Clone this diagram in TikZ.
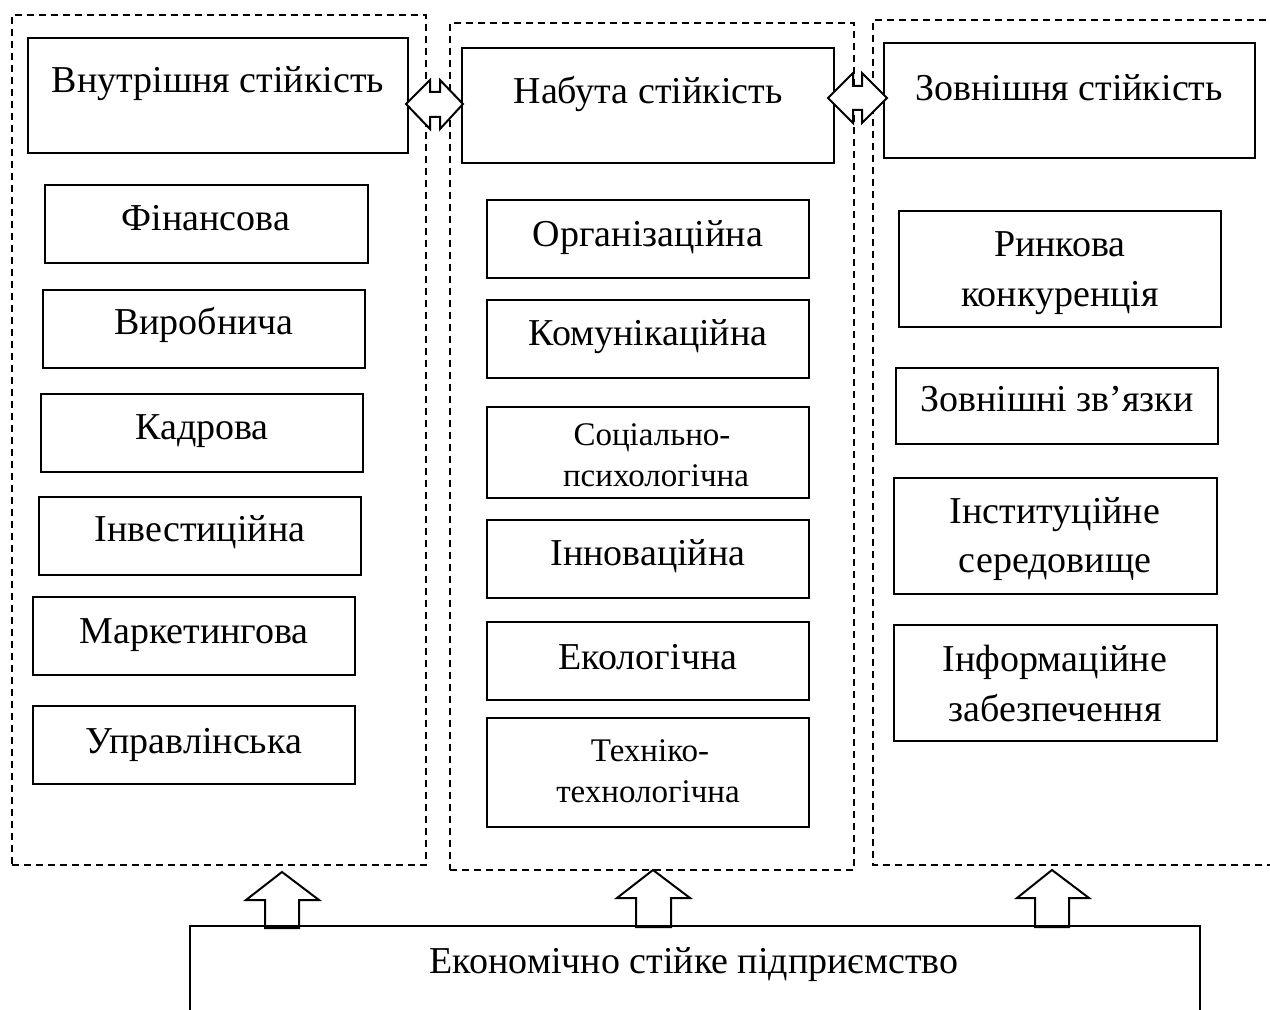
\documentclass[tikz,border=0pt]{standalone}
\usepackage{fontspec}
\setmainfont{Liberation Serif}
\usetikzlibrary{fit}
\begin{document}
\begin{tikzpicture}[x=0.5pt,y=-0.5pt,
  box/.style={draw, line width=1pt, inner sep=0pt},
  frame/.style={draw, line width=0.6pt, dash pattern=on 3.5pt off 2.5pt, inner sep=0pt},
  lbl/.style={font=\fontsize{19}{24}\selectfont, inner sep=0pt, anchor=base},
  slbl/.style={font=\fontsize{16.5}{20}\selectfont, inner sep=0pt, anchor=base},
  blk/.style={draw, line width=1pt, fill=white, line join=miter}]
\useasboundingbox (0,0) rectangle (1270,1010);
\clip (0,0) rectangle (1270,1010);

% dashed frames
\node[frame, fit={(12,15) (426,865)}] (frL) {};
\node[frame, fit={(450,23) (854,870)}] (frM) {};
\coordinate (frRa) at (1290,20);
\coordinate (frRb) at (873,20);
\coordinate (frRc) at (873,865);
\coordinate (frRd) at (1290,865);
\draw[frame] (frRa) -- (frRb) -- (frRc) -- (frRd);

% top boxes
\node[box, fit={(28,38) (408,153)}] (tL) {};
\node[lbl] (tLt) at (218,93) {Внутрішня стійкість};
\node[box, fit={(462,48) (834,163)}] (tM) {};
\node[lbl] (tMt) at (648,104) {Набута стійкість};
\node[box, fit={(884,43) (1255,158)}] (tR) {};
\node[lbl] (tRt) at (1069,101) {Зовнішня стійкість};

% left column
\node[box, fit={(45,185) (368,263)}] (l1) {};
\node[lbl] (l1t) at (206,231) {Фінансова};
\node[box, fit={(43,290) (365,368)}] (l2) {};
\node[lbl] (l2t) at (204,335) {Виробнича};
\node[box, fit={(41,394) (363,472)}] (l3) {};
\node[lbl] (l3t) at (202,440) {Кадрова};
\node[box, fit={(39,497) (361,575)}] (l4) {};
\node[lbl] (l4t) at (200,542) {Інвестиційна};
\node[box, fit={(33,597) (355,675)}] (l5) {};
\node[lbl] (l5t) at (194,644) {Маркетингова};
\node[box, fit={(33,706) (355,784)}] (l6) {};
\node[lbl] (l6t) at (194,753) {Управлінська};

% middle column
\node[box, fit={(487,200) (809,278)}] (m1) {};
\node[lbl] (m1t) at (648,247) {Організаційна};
\node[box, fit={(487,300) (809,378)}] (m2) {};
\node[lbl] (m2t) at (648,346) {Комунікаційна};
\node[box, fit={(487,407) (809,498)}] (m3) {};
\node[slbl] (m3a) at (652,446) {Соціально-};
\node[slbl] (m3b) at (656,487) {психологічна};
\node[box, fit={(487,520) (809,598)}] (m4) {};
\node[lbl] (m4t) at (648,566) {Інноваційна};
\node[box, fit={(487,622) (809,700)}] (m5) {};
\node[lbl] (m5t) at (648,669) {Екологічна};
\node[box, fit={(487,718) (809,827)}] (m6) {};
\node[slbl] (m6a) at (650,761) {Техніко-};
\node[slbl] (m6b) at (648,802) {технологічна};

% right column
\node[box, fit={(899,211) (1221,327)}] (r1) {};
\node[lbl] (r1a) at (1060,257) {Ринкова};
\node[lbl] (r1b) at (1060,307) {конкуренція};
\node[box, fit={(896,368) (1218,444)}] (r2) {};
\node[lbl] (r2t) at (1057,412) {Зовнішні зв’язки};
\node[box, fit={(894,478) (1217,594)}] (r3) {};
\node[lbl] (r3a) at (1055,524) {Інституційне};
\node[lbl] (r3b) at (1055,573) {середовище};
\node[box, fit={(894,625) (1217,741)}] (r4) {};
\node[lbl] (r4a) at (1055,671) {Інформаційне};
\node[lbl] (r4b) at (1055,721) {забезпечення};

% double block arrows
\draw[blk] (406,104) -- (430,80) -- (430,92) -- (440,92) -- (440,80) -- (463,104)
  -- (440,129) -- (440,117) -- (430,117) -- (430,129) -- cycle;
\draw[blk] (828,98) -- (853,73) -- (853,86) -- (862,86) -- (862,73) -- (887,98)
  -- (862,123) -- (862,110) -- (853,110) -- (853,123) -- cycle;

% up block arrows
\draw[blk] (282,872) -- (319,900) -- (299,900) -- (299,928) -- (265,928) -- (265,900) -- (246,900) -- cycle;
\draw[blk] (653,870) -- (690,898) -- (671,898) -- (671,927) -- (636,927) -- (636,898) -- (617,898) -- cycle;
\draw[blk] (1052,870) -- (1089,898) -- (1069,898) -- (1069,927) -- (1035,927) -- (1035,898) -- (1017,898) -- cycle;

% bottom box
\node[box, fit={(190,926) (1200,1060)}] (base) {};
\node[font=\fontsize{19}{24}\selectfont, inner sep=0pt, anchor=base] (baset) at (694,973) {Економічно стійке підприємство};
\end{tikzpicture}
\end{document}
